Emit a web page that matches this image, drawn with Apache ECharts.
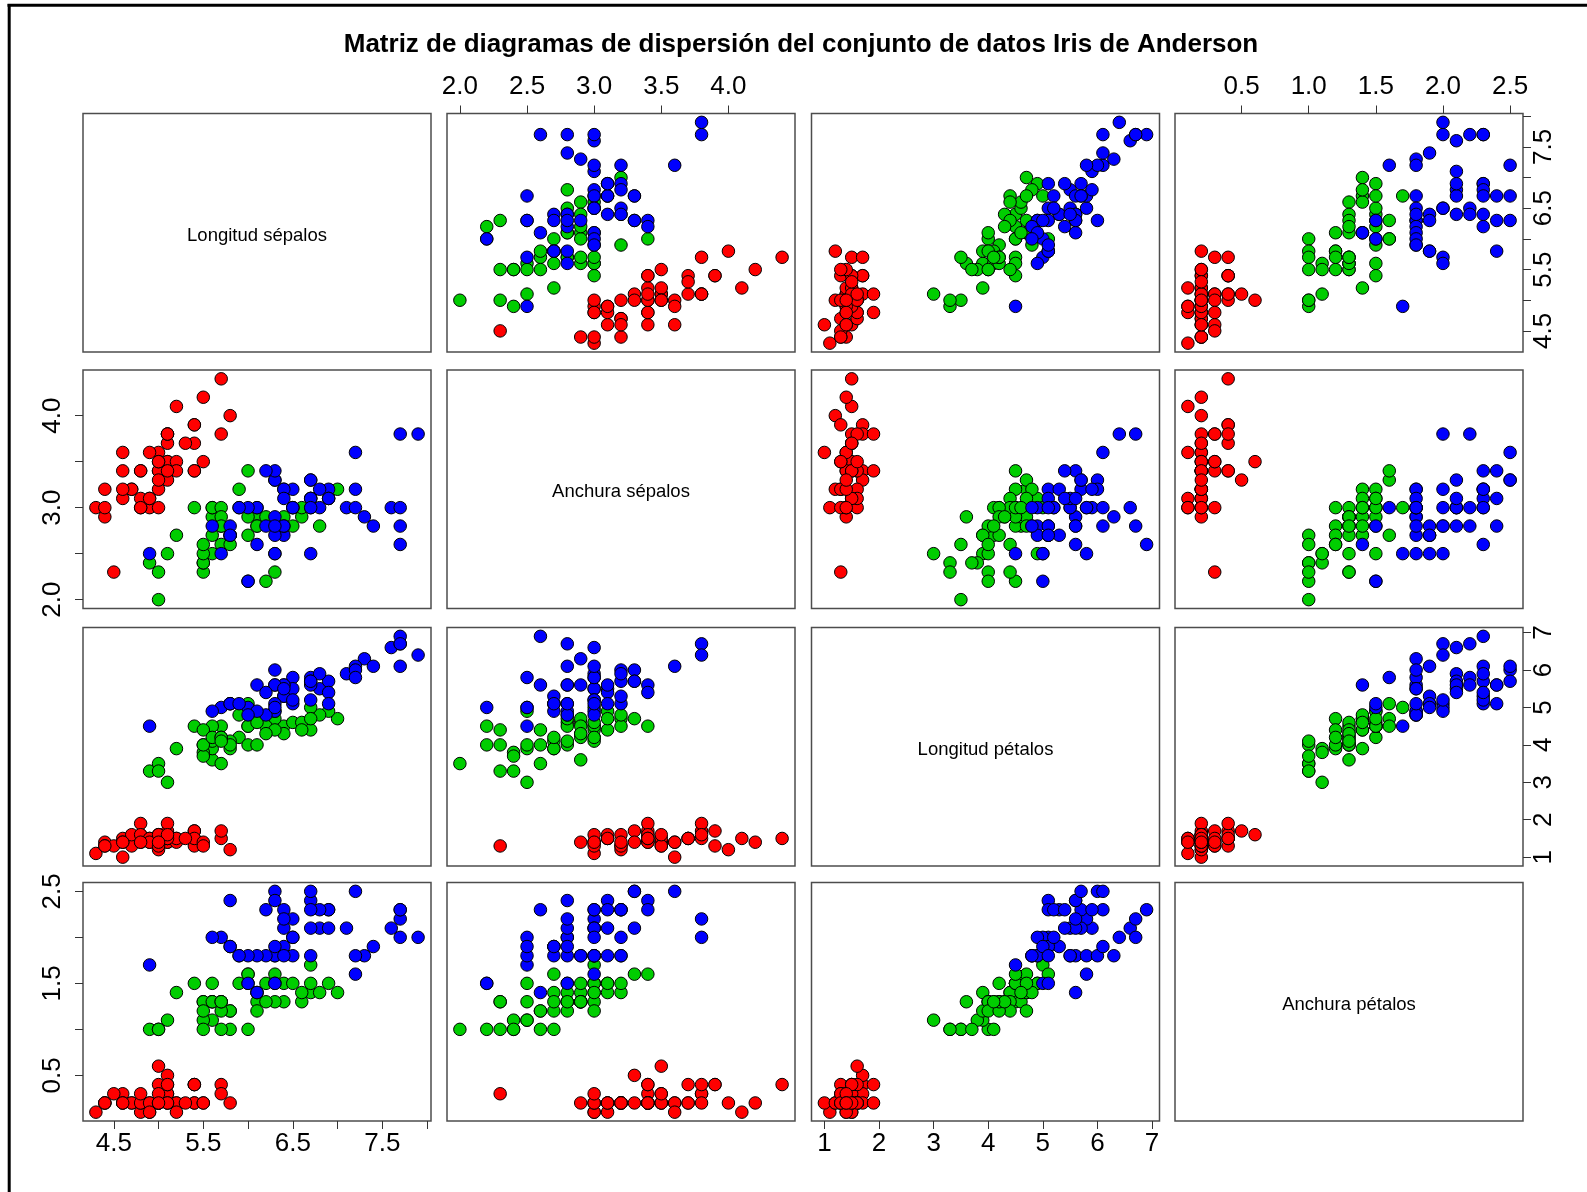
<!DOCTYPE html>
<html><head><meta charset="utf-8">
<script src="https://cdn.jsdelivr.net/npm/echarts@6/dist/echarts.min.js"></script>
<style>html,body{margin:0;padding:0;background:#fff}#c{width:1587px;height:1192px}</style>
</head><body><div id="c"></div>
<script>
const chartTitle = 'Matriz de diagramas de dispersión del conjunto de datos Iris de Anderson';
const varNames = ['Longitud sépalos', 'Anchura sépalos', 'Longitud pétalos', 'Anchura pétalos'];
const speciesNames = ['setosa', 'versicolor', 'virginica'];
const speciesColors = ['#FF0000', '#00CD00', '#0000FF'];
const speciesCount = [50, 50, 50];

const sepalLength = [
5.1,4.9,4.7,4.6,5.0,5.4,4.6,5.0,4.4,4.9,5.4,4.8,4.8,4.3,5.8,5.7,5.4,5.1,5.7,5.1,5.4,5.1,4.6,5.1,4.8,5.0,5.0,5.2,5.2,4.7,4.8,5.4,5.2,5.5,4.9,5.0,5.5,4.9,4.4,5.1,5.0,4.5,4.4,5.0,5.1,4.8,5.1,4.6,5.3,5.0,
7.0,6.4,6.9,5.5,6.5,5.7,6.3,4.9,6.6,5.2,5.0,5.9,6.0,6.1,5.6,6.7,5.6,5.8,6.2,5.6,5.9,6.1,6.3,6.1,6.4,6.6,6.8,6.7,6.0,5.7,5.5,5.5,5.8,6.0,5.4,6.0,6.7,6.3,5.6,5.5,5.5,6.1,5.8,5.0,5.6,5.7,5.7,6.2,5.1,5.7,
6.3,5.8,7.1,6.3,6.5,7.6,4.9,7.3,6.7,7.2,6.5,6.4,6.8,5.7,5.8,6.4,6.5,7.7,7.7,6.0,6.9,5.6,7.7,6.3,6.7,7.2,6.2,6.1,6.4,7.2,7.4,7.9,6.4,6.3,6.1,7.7,6.3,6.4,6.0,6.9,6.7,6.9,5.8,6.8,6.7,6.7,6.3,6.5,6.2,5.9];
const sepalWidth = [
3.5,3.0,3.2,3.1,3.6,3.9,3.4,3.4,2.9,3.1,3.7,3.4,3.0,3.0,4.0,4.4,3.9,3.5,3.8,3.8,3.4,3.7,3.6,3.3,3.4,3.0,3.4,3.5,3.4,3.2,3.1,3.4,4.1,4.2,3.1,3.2,3.5,3.6,3.0,3.4,3.5,2.3,3.2,3.5,3.8,3.0,3.8,3.2,3.7,3.3,
3.2,3.2,3.1,2.3,2.8,2.8,3.3,2.4,2.9,2.7,2.0,3.0,2.2,2.9,2.9,3.1,3.0,2.7,2.2,2.5,3.2,2.8,2.5,2.8,2.9,3.0,2.8,3.0,2.9,2.6,2.4,2.4,2.7,2.7,3.0,3.4,3.1,2.3,3.0,2.5,2.6,3.0,2.6,2.3,2.7,3.0,2.9,2.9,2.5,2.8,
3.3,2.7,3.0,2.9,3.0,3.0,2.5,2.9,2.5,3.6,3.2,2.7,3.0,2.5,2.8,3.2,3.0,3.8,2.6,2.2,3.2,2.8,2.8,2.7,3.3,3.2,2.8,3.0,2.8,3.0,2.8,3.8,2.8,2.8,2.6,3.0,3.4,3.1,3.0,3.1,3.1,3.1,2.7,3.2,3.3,3.0,2.5,3.0,3.4,3.0];
const petalLength = [
1.4,1.4,1.3,1.5,1.4,1.7,1.4,1.5,1.4,1.5,1.5,1.6,1.4,1.1,1.2,1.5,1.3,1.4,1.7,1.5,1.7,1.5,1.0,1.7,1.9,1.6,1.6,1.5,1.4,1.6,1.6,1.5,1.5,1.4,1.5,1.2,1.3,1.4,1.3,1.5,1.3,1.3,1.3,1.6,1.9,1.4,1.6,1.4,1.5,1.4,
4.7,4.5,4.9,4.0,4.6,4.5,4.7,3.3,4.6,3.9,3.5,4.2,4.0,4.7,3.6,4.4,4.5,4.1,4.5,3.9,4.8,4.0,4.9,4.7,4.3,4.4,4.8,5.0,4.5,3.5,3.8,3.7,3.9,5.1,4.5,4.5,4.7,4.4,4.1,4.0,4.4,4.6,4.0,3.3,4.2,4.2,4.2,4.3,3.0,4.1,
6.0,5.1,5.9,5.6,5.8,6.6,4.5,6.3,5.8,6.1,5.1,5.3,5.5,5.0,5.1,5.3,5.5,6.7,6.9,5.0,5.7,4.9,6.7,4.9,5.7,6.0,4.8,4.9,5.6,5.8,6.1,6.4,5.6,5.1,5.6,6.1,5.6,5.5,4.8,5.4,5.6,5.1,5.1,5.9,5.7,5.2,5.0,5.2,5.4,5.1];
const petalWidth = [
0.2,0.2,0.2,0.2,0.2,0.4,0.3,0.2,0.2,0.1,0.2,0.2,0.1,0.1,0.2,0.4,0.4,0.3,0.3,0.3,0.2,0.4,0.2,0.5,0.2,0.2,0.4,0.2,0.2,0.2,0.2,0.4,0.1,0.2,0.2,0.2,0.2,0.1,0.2,0.2,0.3,0.3,0.2,0.6,0.4,0.3,0.2,0.2,0.2,0.2,
1.4,1.5,1.5,1.3,1.5,1.3,1.6,1.0,1.3,1.4,1.0,1.5,1.0,1.4,1.3,1.4,1.5,1.0,1.5,1.1,1.8,1.3,1.5,1.2,1.3,1.4,1.4,1.7,1.5,1.0,1.1,1.0,1.2,1.6,1.5,1.6,1.5,1.3,1.3,1.3,1.2,1.4,1.2,1.0,1.3,1.2,1.3,1.3,1.1,1.3,
2.5,1.9,2.1,1.8,2.2,2.1,1.7,1.8,1.8,2.5,2.0,1.9,2.1,2.0,2.4,2.3,1.8,2.2,2.3,1.5,2.3,2.0,2.0,1.8,2.1,1.8,1.8,1.8,2.1,1.6,1.9,2.0,2.2,1.5,1.4,2.3,2.4,1.8,1.8,2.1,2.4,2.3,1.9,2.3,2.5,2.3,1.9,2.0,2.3,1.8];

// tick positions and labelled ticks per variable
const tickValues = [
  [4.5, 5.0, 5.5, 6.0, 6.5, 7.0, 7.5, 8.0],
  [2.0, 2.5, 3.0, 3.5, 4.0],
  [1, 2, 3, 4, 5, 6, 7],
  [0.5, 1.0, 1.5, 2.0, 2.5]
];
const xLabelValues = [
  [4.5, 5.5, 6.5, 7.5],
  [2.0, 2.5, 3.0, 3.5, 4.0],
  [1, 2, 3, 4, 5, 6, 7],
  [0.5, 1.0, 1.5, 2.0, 2.5]
];
const yLabelValues = [
  [4.5, 5.5, 6.5, 7.5],
  [2.0, 3.0, 4.0],
  [1, 2, 3, 4, 5, 6, 7],
  [0.5, 1.5, 2.5]
];
const labelDecimals = [1, 1, 0, 1];

// ---- layout ----
const FONT = '"Liberation Sans", Arial, Helvetica, sans-serif';
const colLeft = [83, 447, 811.5, 1175];
const colWidth = 348;
const rowTop = [113.5, 370, 627.5, 882.5];
const rowHeight = 238.5;
const borderCol = '#4d4d4d';

const vars = [sepalLength, sepalWidth, petalLength, petalWidth];
const ranges = vars.map(a => {
  const mn = Math.min(...a), mx = Math.max(...a), d = (mx - mn) * 0.04;
  return [mn - d, mx + d];
});
const speciesStart = [0, speciesCount[0], speciesCount[0] + speciesCount[1]];

const grids = [], xAxes = [], yAxes = [], series = [], graphics = [];
for (let r = 0; r < 4; r++) {
  for (let c = 0; c < 4; c++) {
    const g = r * 4 + c;
    grids.push({
      left: colLeft[c], top: rowTop[r], width: colWidth, height: rowHeight,
      show: true, borderColor: borderCol, borderWidth: 1.5, backgroundColor: 'transparent',
      containLabel: false, outerBoundsMode: 'none'
    });
    const diag = r === c;
    const showTop = !diag && r === 0 && (c === 1 || c === 3);
    const showBottom = !diag && r === 3 && (c === 0 || c === 2);
    const xs = showTop || showBottom;
    xAxes.push({
      gridIndex: g, type: 'value', min: ranges[c][0], max: ranges[c][1],
      position: showTop ? 'top' : 'bottom',
      axisLine: { show: false, onZero: false },
      axisTick: { show: xs, inside: false, length: 8, lineStyle: { color: '#333', width: 1 }, customValues: tickValues[c] },
      axisLabel: {
        show: xs, customValues: xLabelValues[c], margin: showTop ? 14 : 10,
        fontSize: 26, fontFamily: FONT, color: '#000',
        formatter: (v) => Number(v).toFixed(labelDecimals[c])
      },
      splitLine: { show: false }
    });
    const showLeft = !diag && c === 0 && (r === 1 || r === 3);
    const showRight = !diag && c === 3 && (r === 0 || r === 2);
    const ys = showLeft || showRight;
    yAxes.push({
      gridIndex: g, type: 'value', min: ranges[r][0], max: ranges[r][1],
      position: showRight ? 'right' : 'left',
      axisLine: { show: false, onZero: false },
      axisTick: { show: ys, inside: false, length: 8, lineStyle: { color: '#333', width: 1 }, customValues: tickValues[r] },
      axisLabel: {
        show: ys, customValues: yLabelValues[r], rotate: 90, margin: showLeft ? 17 : 8,
        fontSize: 26, fontFamily: FONT, color: '#000',
        formatter: (v) => Number(v).toFixed(labelDecimals[r])
      },
      splitLine: { show: false }
    });
    if (diag) {
      graphics.push({
        type: 'text', x: colLeft[c] + colWidth / 2, y: rowTop[r] + rowHeight / 2 + 3,
        style: { text: varNames[r], fontSize: 18.5, fontFamily: FONT, fill: '#000', align: 'center', verticalAlign: 'middle' }
      });
    } else {
      for (let s = 0; s < 3; s++) {
        const data = [];
        for (let i = speciesStart[s]; i < speciesStart[s] + speciesCount[s]; i++) {
          data.push([vars[c][i], vars[r][i]]);
        }
        series.push({
          type: 'scatter', name: speciesNames[s], xAxisIndex: g, yAxisIndex: g,
          data: data, symbol: 'circle', symbolSize: 12.5,
          itemStyle: { color: speciesColors[s], borderColor: '#000', borderWidth: 1, opacity: 1 },
          emphasis: { disabled: true }, silent: true
        });
      }
    }
  }
}
// title + outer frame fragments
graphics.push({
  type: 'text', x: 801, y: 44.5,
  style: { text: chartTitle, fontSize: 26, fontWeight: 'bold', fontFamily: FONT, fill: '#000', align: 'center', verticalAlign: 'middle' }
});
graphics.push({ type: 'line', shape: { x1: 7.5, y1: 5.3, x2: 1587, y2: 5.3 }, style: { stroke: '#000', lineWidth: 3 } });
graphics.push({ type: 'line', shape: { x1: 9.2, y1: 4, x2: 9.2, y2: 1192 }, style: { stroke: '#000', lineWidth: 3 } });

const chart = echarts.init(document.getElementById('c'), null, { renderer: 'canvas' });
chart.setOption({
  animation: false,
  backgroundColor: '#fff',
  grid: grids, xAxis: xAxes, yAxis: yAxes, series: series,
  graphic: { elements: graphics }
});
</script></body></html>
